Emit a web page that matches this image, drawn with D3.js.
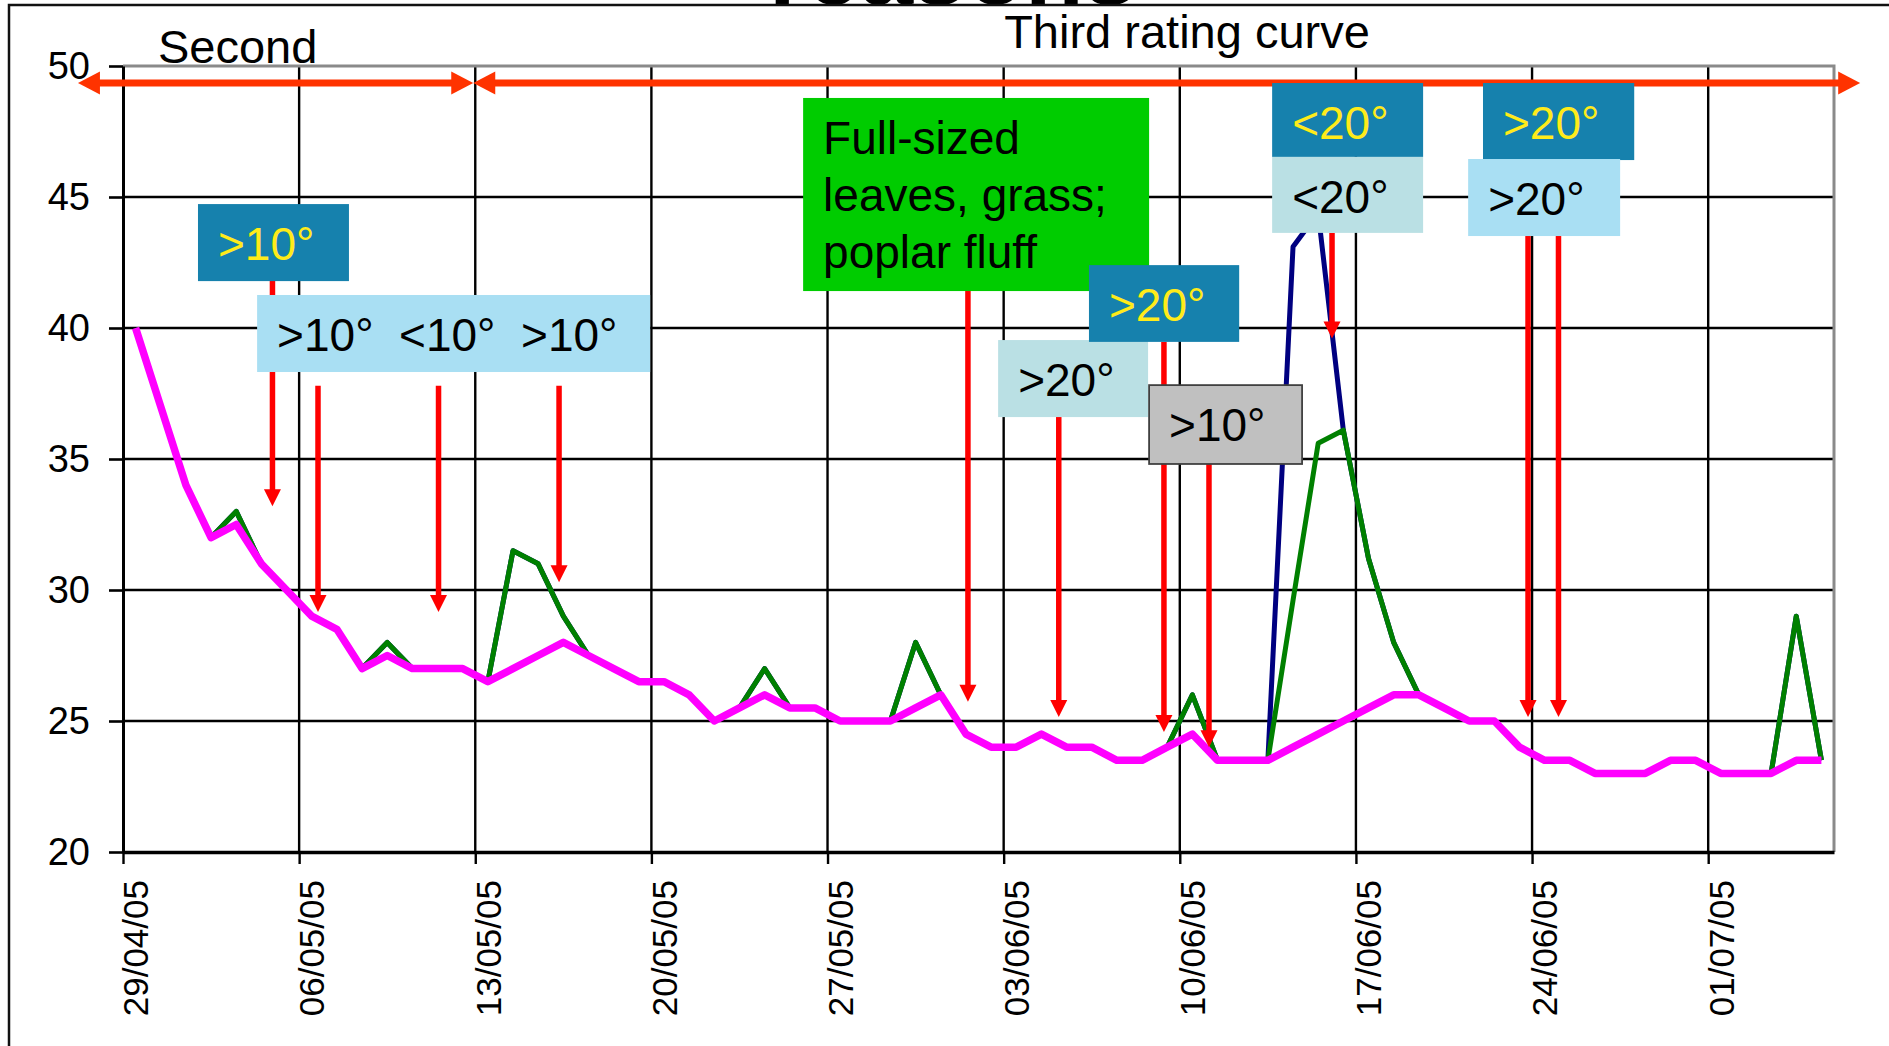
<!DOCTYPE html>
<html><head><meta charset="utf-8">
<script src="https://cdn.jsdelivr.net/npm/d3@7"></script>
<style>
html,body{margin:0;padding:0;background:#fff;overflow:hidden}
svg{display:block;font-family:"Liberation Sans",Arial,Helvetica,sans-serif}
</style></head><body>
<svg id="chart" width="1889" height="1046"></svg>
<script>
// ---------- DATA ----------
const firstDay = "2005-04-29";
const lastDayExclusive = "2005-07-06";
const tickDates = ["2005-04-29","2005-05-06","2005-05-13","2005-05-20","2005-05-27","2005-06-03","2005-06-10","2005-06-17","2005-06-24","2005-07-01"];
const tickLabels = ["29/04/05","06/05/05","13/05/05","20/05/05","27/05/05","03/06/05","10/06/05","17/06/05","24/06/05","01/07/05"];
const yTicks = [20,25,30,35,40,45,50];

// daily values, one per day starting 29/04/05
const seriesBlue = [40,37,34,32,33,31,30,29,28.5,27,28,27,27,27,26.5,31.5,31,29,27.5,27,26.5,26.5,26,25,25.5,27,25.5,25.5,25,25,25,28,26,24.5,24,24,24.5,24,24,23.5,23.5,24,26,23.5,23.5,23.5,43.1,44.4,36.1,31.2,28,26,25.5,25,25,24,23.5,23.5,23,23,23,23.5,23.5,23,23,23,29,23.5];
const seriesGreen = [40,37,34,32,33,31,30,29,28.5,27,28,27,27,27,26.5,31.5,31,29,27.5,27,26.5,26.5,26,25,25.5,27,25.5,25.5,25,25,25,28,26,24.5,24,24,24.5,24,24,23.5,23.5,24,26,23.5,23.5,23.5,29.6,35.6,36.1,31.2,28,26,25.5,25,25,24,23.5,23.5,23,23,23,23.5,23.5,23,23,23,29,23.5];
const seriesPink = [40,37,34,32,32.5,31,30,29,28.5,27,27.5,27,27,27,26.5,27,27.5,28,27.5,27,26.5,26.5,26,25,25.5,26,25.5,25.5,25,25,25,25.5,26,24.5,24,24,24.5,24,24,23.5,23.5,24,24.5,23.5,23.5,23.5,24,24.5,25,25.5,26,26,25.5,25,25,24,23.5,23.5,23,23,23,23.5,23.5,23,23,23,23.5,23.5];

// annotations (day offset from 29/04/05, value on y scale)
const periodArrows = [
  {from:-1.79, to:13.92, value:49.35},
  {from:13.92, to:69.04, value:49.35}
];
const periodLabels = [
  {text:"Second", day:1.39, value:50.11},
  {text:"Third rating curve", day:35.02, value:50.69}
];
const noteBoxes = [
  {kind:"light", d0:5.33, d1:20.95, v0:41.26, v1:38.32, lines:[">10°  <10°  >10°"]},
  {kind:"green", d0:27.03, d1:40.78, v0:48.78, v1:41.41, lines:["Full-sized","leaves, grass;","poplar fluff"]},
  {kind:"pale",  d0:34.78, d1:40.74, v0:39.54, v1:36.6, lines:[">20°"]},
  {kind:"dark",  d0:38.39, d1:44.36, v0:42.4, v1:39.47, lines:[">20°"]},
  {kind:"gray",  d0:40.78, d1:46.86, v0:37.82, v1:34.81, lines:[">10°"]},
  {kind:"dark",  d0:2.98, d1:8.98, v0:44.73, v1:41.79, lines:[">10°"]},
  {kind:"dark",  d0:45.67, d1:51.67, v0:49.35, v1:46.53, lines:["<20°"]},
  {kind:"pale",  d0:45.67, d1:51.67, v0:46.53, v1:43.63, lines:["<20°"]},
  {kind:"dark",  d0:54.05, d1:60.06, v0:49.35, v1:46.41, lines:[">20°"]},
  {kind:"light", d0:53.46, d1:59.5, v0:46.45, v1:43.51, lines:[">20°"]}
];
const eventArrows = [
  {day:5.94, from:41.79, to:33.2},
  {day:7.75, from:37.8, to:29.16},
  {day:12.54, from:37.8, to:29.16},
  {day:17.33, from:37.8, to:30.3},
  {day:33.58, from:41.41, to:25.73},
  {day:37.19, from:36.6, to:25.15},
  {day:41.37, from:39.47, to:24.58},
  {day:43.16, from:34.81, to:24.0},
  {day:48.05, from:43.63, to:39.6},
  {day:55.84, from:43.51, to:25.15},
  {day:57.05, from:43.51, to:25.15}
];

// ---------- DRAW ----------
const svg = d3.select("#chart");
const parse = d3.utcParse("%Y-%m-%d");
const t0 = parse(firstDay);
const x = d3.scaleUtc().domain([t0, parse(lastDayExclusive)]).range([123, 1834]);
const y = d3.scaleLinear().domain([20, 50]).range([852, 66]);
const xd = d => x(new Date(t0.getTime() + d * 864e5));

// title (cut off at top)
svg.append("text").attr("x", 953).attr("y", 4).attr("text-anchor","middle")
  .attr("font-size", 96).attr("font-weight","bold").attr("fill","#000").text("reasons");

// outer frame
svg.append("path").attr("d","M9,1046V5H1889").attr("fill","none").attr("stroke","#111").attr("stroke-width",2.5);

// gridlines
const grid = svg.append("g");
grid.selectAll("line.h").data([25,30,35,40,45]).join("line")
  .attr("x1", x.range()[0]).attr("x2", x.range()[1])
  .attr("y1", d=>y(d)).attr("y2", d=>y(d)).attr("stroke","#000").attr("stroke-width",2.6);
grid.selectAll("line.v").data(tickDates.slice(1).map(parse)).join("line")
  .attr("x1", d=>x(d)).attr("x2", d=>x(d))
  .attr("y1", y(50)).attr("y2", y(20)).attr("stroke","#000").attr("stroke-width",2.4);
// plot border top/right
svg.append("path").attr("d", `M${x.range()[0]},${y(50)}H${x.range()[1]}V${y(20)}`)
  .attr("fill","none").attr("stroke","#8a8a8a").attr("stroke-width",3);

// axes
const yAxis = svg.append("g").attr("transform",`translate(${x.range()[0]},0)`)
  .call(d3.axisLeft(y).tickValues(yTicks).tickSize(14).tickSizeOuter(0).tickPadding(19));
yAxis.selectAll("text").attr("font-size",38).attr("font-family","Liberation Sans, Arial, sans-serif").attr("fill","#000");
yAxis.selectAll("line").attr("stroke","#000").attr("stroke-width",2.6);
yAxis.select(".domain").attr("stroke","#000").attr("stroke-width",3);

const xAxis = svg.append("g").attr("transform",`translate(0,${y(20)})`)
  .call(d3.axisBottom(x).tickValues(tickDates.map(parse)).tickSize(12).tickSizeOuter(0)
    .tickFormat((d,i)=>tickLabels[i]));
xAxis.selectAll("line").attr("stroke","#000").attr("stroke-width",2.4);
xAxis.select(".domain").attr("stroke","#000").attr("stroke-width",3.4);
xAxis.selectAll("text").attr("font-size",35).attr("font-family","Liberation Sans, Arial, sans-serif").attr("fill","#000")
  .attr("transform","rotate(-90)").attr("text-anchor","end")
  .attr("x",-28).attr("y",12.6).attr("dy","0.35em");

// series
const line = d3.line().x((d,i)=>xd(i+0.5)).y(d=>y(d)).curve(d3.curveLinear);
const series = [
  {vals:seriesBlue, color:"#000080", w:5},
  {vals:seriesGreen, color:"#008000", w:5},
  {vals:seriesPink, color:"#FF00FF", w:7.5}
];
svg.append("g").selectAll("path").data(series).join("path")
  .attr("d", s=>line(s.vals)).attr("fill","none").attr("stroke", s=>s.color)
  .attr("stroke-width", s=>s.w).attr("stroke-linejoin","round").attr("stroke-linecap","butt");

// event arrows
const ea = svg.append("g");
const head = 17, halfW = 8.5;
eventArrows.forEach(a=>{
  const ax = xd(a.day), y0 = y(a.from), y1 = y(a.to);
  ea.append("line").attr("x1",ax).attr("x2",ax).attr("y1",y0).attr("y2",y1-head+1)
    .attr("stroke","#FF0000").attr("stroke-width",5.5);
  ea.append("path").attr("d",`M${ax-halfW},${y1-head}L${ax+halfW},${y1-head}L${ax},${y1}Z`).attr("fill","#FF0000");
});

// period arrows
const pa = svg.append("g");
const hl = 22, hh = 11.5;
periodArrows.forEach(a=>{
  const xa = xd(a.from), xb = xd(a.to), yy = y(a.value);
  pa.append("line").attr("x1",xa+hl-1).attr("x2",xb-hl+1).attr("y1",yy).attr("y2",yy)
    .attr("stroke","#FF3300").attr("stroke-width",7);
  pa.append("path").attr("d",`M${xa},${yy}L${xa+hl},${yy-hh}L${xa+hl},${yy+hh}Z`).attr("fill","#FF3300");
  pa.append("path").attr("d",`M${xb},${yy}L${xb-hl},${yy-hh}L${xb-hl},${yy+hh}Z`).attr("fill","#FF3300");
});
svg.append("g").selectAll("text").data(periodLabels).join("text")
  .attr("x", d=>xd(d.day)).attr("y", d=>y(d.value)).attr("font-size",47).attr("fill","#000").text(d=>d.text);

// note boxes
const styles = {
  dark:{fill:"#1681AD", text:"#FFEB1A"},
  light:{fill:"#A9DFF3", text:"#000"},
  pale:{fill:"#BAE0E4", text:"#000"},
  gray:{fill:"#C0C0C0", text:"#000", stroke:"#404040"},
  green:{fill:"#00CC00", text:"#000"}
};
const nb = svg.append("g");
noteBoxes.forEach(b=>{
  const st = styles[b.kind];
  const bx = xd(b.d0), by = y(b.v0), bw = xd(b.d1)-bx, bh = y(b.v1)-by;
  nb.append("rect").attr("x",bx).attr("y",by).attr("width",bw).attr("height",bh)
    .attr("fill",st.fill).attr("stroke",st.stroke||"none").attr("stroke-width",st.stroke?1.8:0);
  b.lines.forEach((t,i)=>{
    nb.append("text").attr("x",bx+20).attr("y",by+56+i*57).attr("font-size",46)
      .attr("fill",st.text).style("white-space","pre").text(t);
  });
});
</script>
</body></html>
